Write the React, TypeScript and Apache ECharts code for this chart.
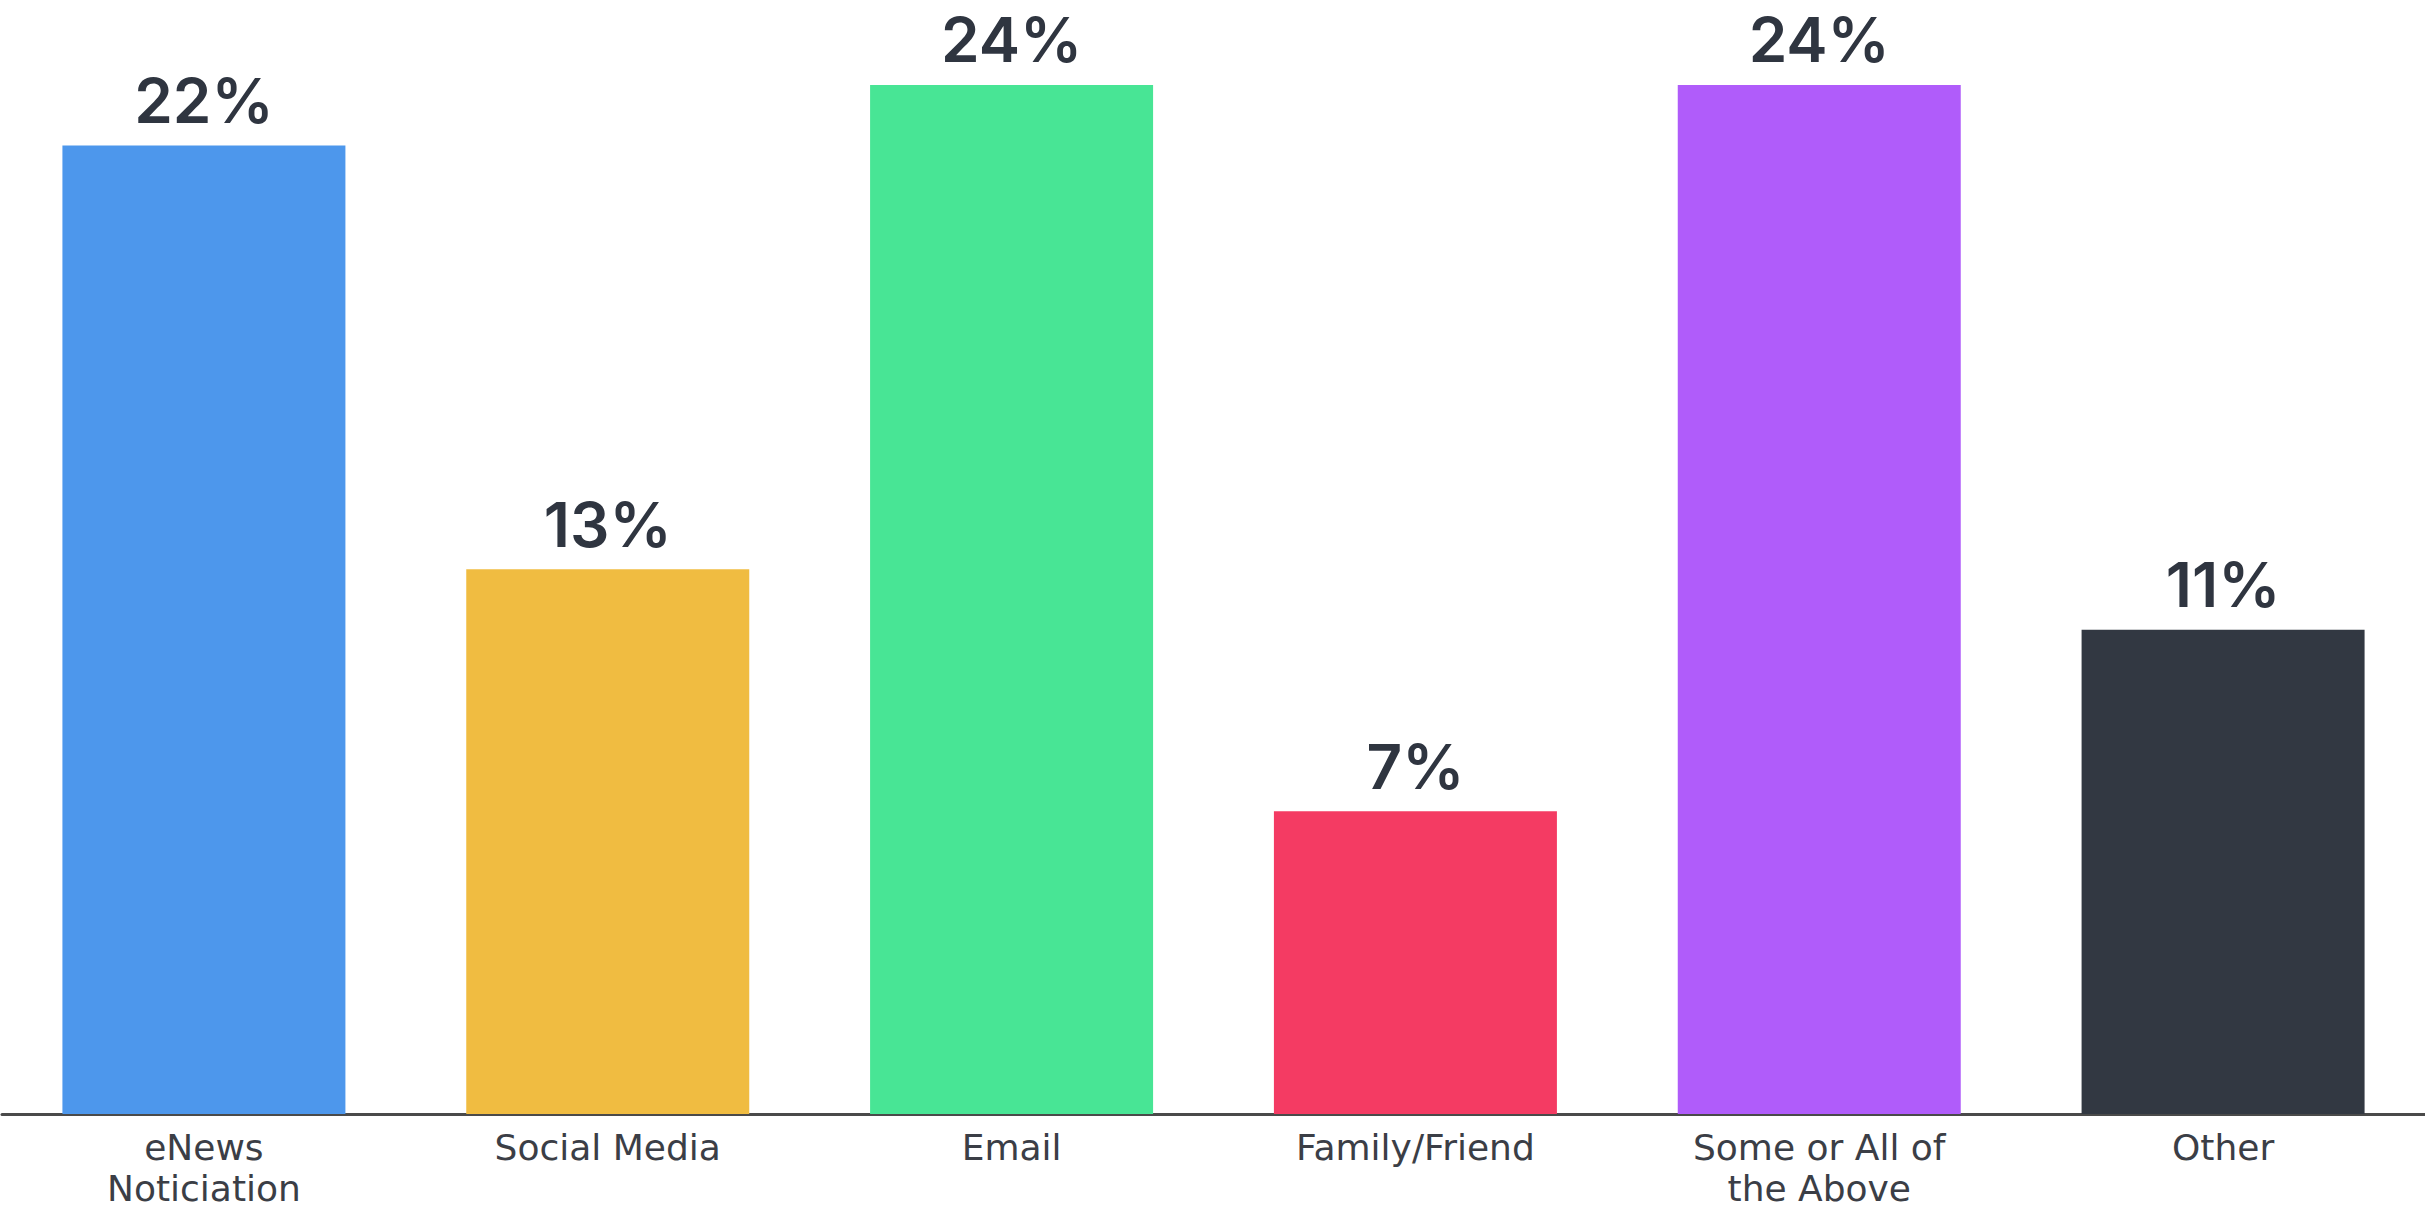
import React, { useEffect, useRef } from "react";
import * as echarts from "echarts";

const categories = [
  "eNews\nNoticiation",
  "Social Media",
  "Email",
  "Family/Friend",
  "Some or All of\nthe Above",
  "Other",
];
const values = [22.4, 12.6, 23.8, 7.0, 23.8, 11.2];
const barColors = ["#4D97EC", "#F0BC41", "#48E595", "#F43B63", "#B05CFA", "#323842"];

export default function App() {
  const ref = useRef<HTMLDivElement>(null);
  useEffect(() => {
    if (!ref.current) return;
    const chart = echarts.init(ref.current, undefined, { renderer: "svg" });
    chart.setOption({
      animation: false,
      backgroundColor: "#ffffff",
      grid: { left: 2, right: 0, top: 33, bottom: 95 },
      xAxis: {
        type: "category",
        data: categories,
        axisLine: { show: true, lineStyle: { color: "#4a4a4a", width: 3 } },
        axisTick: { show: false },
        axisLabel: {
          color: "#3B3E46",
          fontFamily: "DejaVu Sans",
          fontSize: 36,
          fontWeight: "normal",
          lineHeight: 41,
          margin: 13,
          interval: 0,
        },
      },
      yAxis: {
        type: "value",
        min: 0,
        max: 25,
        show: false,
        splitLine: { show: false },
      },
      series: [
        {
          type: "bar",
          barWidth: 283,
          data: values.map((v, i) => ({ value: v, itemStyle: { color: barColors[i] } })),
          label: {
            show: true,
            position: "top",
            distance: 17,
            color: "#2F3540",
            fontFamily: "Inter",
            fontWeight: 600,
            fontSize: 62,
            lineHeight: 56,
            formatter: (p: any) => `${Math.round(p.value)}%`,
          },
        },
      ],
    });
    return () => chart.dispose();
  }, []);
  return (
    <div
      ref={ref}
      style={{ position: "fixed", left: 0, top: 0, width: 2425, height: 1209 }}
    />
  );
}
